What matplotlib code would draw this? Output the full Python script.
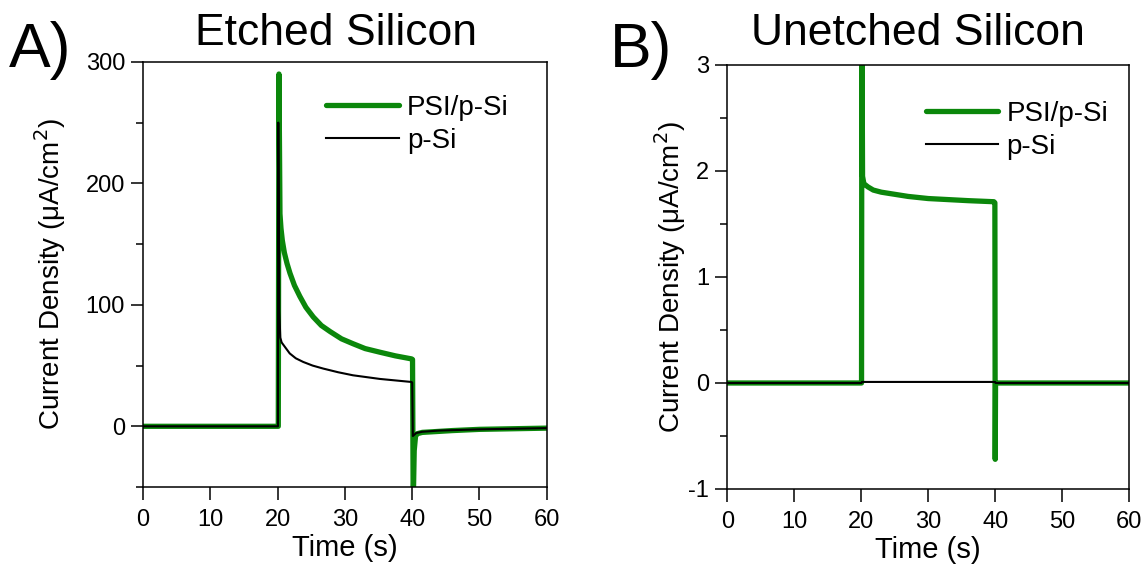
import matplotlib
matplotlib.use("Agg")
import matplotlib.pyplot as plt
from matplotlib.ticker import MultipleLocator

plt.rcParams['font.family'] = ['Liberation Sans', 'DejaVu Sans']
plt.rcParams['axes.unicode_minus'] = False

# panel A: etched silicon (uA/cm2)
t_a_psi = [0, 20.1, 20.2, 20.35, 20.5, 20.7, 21, 21.4, 21.84, 22.5, 23.3, 24.2, 25.3, 26.5,
           27.8, 29.5, 31.2, 33, 35.2, 37.5, 39.9, 40.05, 40.15, 40.3, 40.5, 40.8, 41.5, 43,
           46, 50, 55, 60]
j_a_psi = [0, 0, 290, 175, 163, 153, 143, 134, 126, 116, 107, 98, 90, 83,
           78, 72, 68, 64, 61, 58, 55.5, 55, -65, -20, -8, -6, -5, -4.5,
           -3.5, -2.5, -2, -1.5]

t_a_si = [0, 20.05, 20.1, 20.25, 20.4, 20.6, 21, 21.4, 21.8, 22.7, 23.8, 25.2, 26.8, 29,
          31.2, 35.2, 39.9, 40.0, 40.1, 40.6, 41.5, 44, 50, 60]
j_a_si = [0, 0, 250, 95, 73, 69, 66, 63, 60, 56, 53, 50, 47.5, 44.5,
          42, 39, 36.5, 36, -8, -5.5, -4.5, -3.5, -2.5, -1.5]

# panel B: unetched silicon (uA/cm2)
t_b_psi = [0, 20.05, 20.1, 20.2, 20.4, 21, 21.8, 23, 25, 27, 30, 33, 36, 39.8, 39.95,
           40.0, 40.05, 60]
j_b_psi = [0, 0, 3.6, 1.95, 1.88, 1.85, 1.82, 1.8, 1.78, 1.76, 1.74, 1.73, 1.72, 1.71, 1.70,
           -0.72, 0, 0]

t_b_si = [0, 20.05, 20.1, 40.0, 40.05, 60]
j_b_si = [0, 0, 0.01, 0.01, 0, 0]

green = '#0b870b'

fig = plt.figure(figsize=(11.47, 5.73), dpi=100)
axA = fig.add_axes([0.1247, 0.150, 0.352, 0.742])
axB = fig.add_axes([0.634, 0.1466, 0.3505, 0.740])

for ax, tp, jp, ts, js in [(axA, t_a_psi, j_a_psi, t_a_si, j_a_si),
                           (axB, t_b_psi, j_b_psi, t_b_si, j_b_si)]:
    ax.plot(tp, jp, color=green, lw=3.8, solid_capstyle='round', solid_joinstyle='round',
            label='PSI/p-Si')
    ax.plot(ts, js, color='black', lw=1.5, label='p-Si')
    ax.set_xlim(0, 60)
    ax.xaxis.set_major_locator(MultipleLocator(10))
    ax.tick_params(which='major', direction='out', length=9, width=1.1, labelsize=17, pad=4)
    ax.tick_params(which='minor', direction='out', length=5, width=1.1)
    ax.tick_params(axis='x', which='major', pad=7)
    for s in ax.spines.values():
        s.set_linewidth(1.1)
    ax.set_xlabel('Time (s)', fontsize=21, labelpad=2)

axA.set_ylabel('Current Density (μA/cm$^2$)', fontsize=20, labelpad=13)
axB.set_ylabel('Current Density (μA/cm$^2$)', fontsize=20, labelpad=0)

axA.set_ylim(-50, 300)
axA.yaxis.set_major_locator(MultipleLocator(100))
axA.yaxis.set_minor_locator(MultipleLocator(50))
axA.legend(loc='upper left', bbox_to_anchor=(0.42, 0.955), frameon=False, fontsize=20,
           handlelength=2.6, handletextpad=0.3, labelspacing=0.25, borderpad=0)

axB.set_ylim(-1, 3)
axB.yaxis.set_major_locator(MultipleLocator(1))
axB.yaxis.set_minor_locator(MultipleLocator(0.5))
axB.legend(loc='upper left', bbox_to_anchor=(0.46, 0.948), frameon=False, fontsize=20,
           handlelength=2.6, handletextpad=0.3, labelspacing=0.25, borderpad=0)

fig.text(0.293, 0.922, 'Etched Silicon', fontsize=32, ha='center', va='baseline')
fig.text(0.800, 0.922, 'Unetched Silicon', fontsize=32, ha='center', va='baseline')
fig.text(0.008, 0.883, 'A)', fontsize=45, ha='left', va='baseline')
fig.text(0.532, 0.883, 'B)', fontsize=45, ha='left', va='baseline')

fig.savefig('out.png', dpi=100)
